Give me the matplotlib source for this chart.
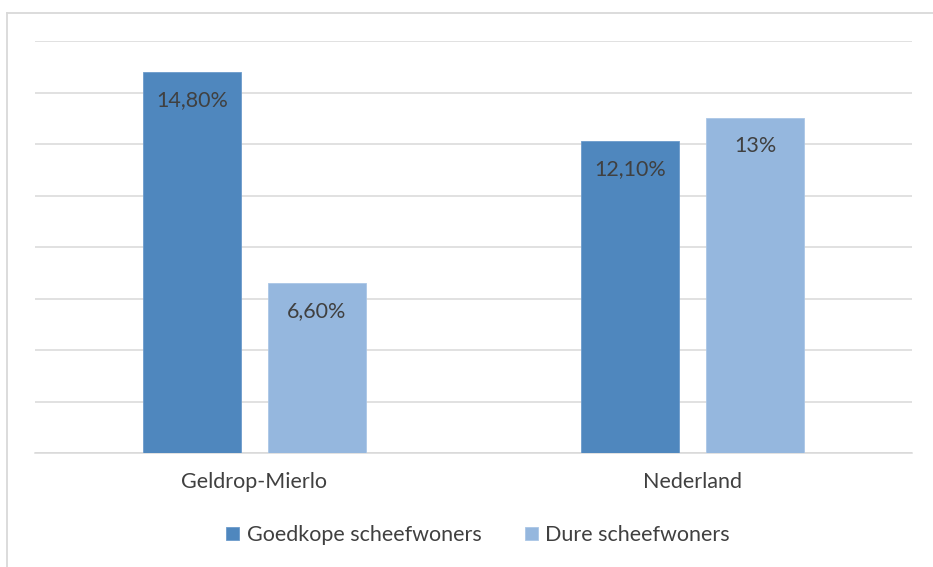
import matplotlib
matplotlib.use('Agg')
import matplotlib.pyplot as plt
from matplotlib.lines import Line2D
import numpy as np

plt.rcParams['font.family'] = ['Lato', 'DejaVu Sans']

categories = ['Geldrop-Mierlo', 'Nederland']
series_names = ['Goedkope scheefwoners', 'Dure scheefwoners']
goedkoop = [14.8, 12.1]
duur = [6.6, 13.0]
labels_goedkoop = ['14,80%', '12,10%']
labels_duur = ['6,60%', '13%']

DARK = '#4f87be'
LIGHT = '#95b7de'
GRID = '#d9d9d9'
TXT = '#404040'
FS = 15.5

fig = plt.figure(figsize=(9.33, 5.67), dpi=100, facecolor='white')
ax = fig.add_axes([35 / 933, 1 - 453 / 567, 877 / 933, 412 / 567])

x = np.arange(len(categories))
w = 0.2235
off = 0.1425
b1 = ax.bar(x - off, goedkoop, w, color=DARK, edgecolor='#6c9bcb', linewidth=0.6,
            label=series_names[0], zorder=3)
b2 = ax.bar(x + off, duur, w, color=LIGHT, edgecolor='#aac6e6', linewidth=0.6,
            label=series_names[1], zorder=3)

for bars, labs in ((b1, labels_goedkoop), (b2, labels_duur)):
    for rect, lab in zip(bars, labs):
        ax.annotate(lab, (rect.get_x() + rect.get_width() / 2, rect.get_height()),
                    xytext=(0, -20), textcoords='offset points',
                    ha='center', va='center', fontsize=FS, color=TXT, zorder=4)

ax.set_xlim(-0.5, 1.5)
ax.set_ylim(0, 16)
ax.set_yticks(np.arange(0, 17, 2))
ax.yaxis.grid(True, color=GRID, linewidth=1.1, zorder=0)
ax.tick_params(axis='y', left=False, labelleft=False)
ax.set_xticks(x)
ax.set_xticklabels(categories, fontsize=FS, color=TXT)
ax.tick_params(axis='x', length=0, pad=14)
for s in ['top', 'right', 'left']:
    ax.spines[s].set_visible(False)
ax.spines['bottom'].set_color(GRID)
ax.spines['bottom'].set_linewidth(1.1)

fig.legend(handles=[b1, b2], labels=series_names, loc='center',
           bbox_to_anchor=(478 / 933, 1 - 535 / 567), ncol=2, frameon=False,
           fontsize=FS, labelcolor=TXT, handlelength=0.6, handleheight=0.6,
           handletextpad=0.35, columnspacing=2.0)

# outer chart frame (top and left edges visible)
fig.add_artist(Line2D([7 / 933, 1], [1 - 13 / 567] * 2, color=GRID, linewidth=1.3,
                      transform=fig.transFigure))
fig.add_artist(Line2D([7 / 933] * 2, [0, 1 - 13 / 567], color=GRID, linewidth=1.3,
                      transform=fig.transFigure))

fig.savefig('out.png', dpi=100, facecolor='white')
